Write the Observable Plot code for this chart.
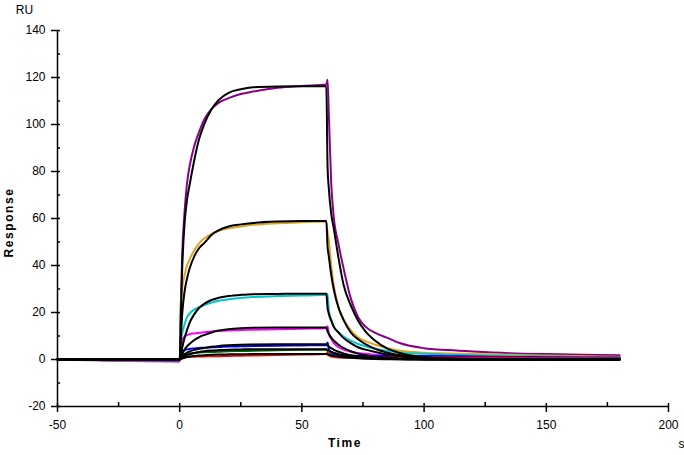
<!DOCTYPE html>
<html><head><meta charset="utf-8">
<script src="https://cdn.jsdelivr.net/npm/d3@7"></script>
<script src="https://cdn.jsdelivr.net/npm/@observablehq/plot@0.6"></script>
<style>body{margin:0;background:#fff}</style>
</head><body><div id="chart"></div>
<script>
// time points (s)
const time = [-50, 0, 0.5, 1, 2, 3, 4, 6, 8, 10, 13, 16, 20, 25, 30, 40, 50, 60, 60.5, 61, 62, 63, 65, 67, 70, 73, 76, 80, 85, 90, 100, 110, 120, 135, 150, 165, 180];

const seriesNames = ["c1", "c2", "c3", "c4", "c5", "c6", "c7"];
const seriesColors = ["#880088", "#DAA520", "#00C8C8", "#FF00FF", "#0000FF", "#006400", "#FF0000"];

// measured responses (RU)
const dataC1 = [0, -0.8, 25, 44, 63, 75, 82, 91, 97, 102, 106.5, 109.3, 111.2, 113, 114, 115.6, 116.4, 117, 119, 105, 75, 61, 49, 39, 26, 18, 14, 11.3, 9.2, 7.0, 4.8, 4.0, 3.4, 2.7, 2.3, 2.0, 1.8];
const dataC2 = [0, -0.5, 24, 30, 36, 40, 42.5, 46.5, 49.5, 51.5, 53.5, 54.8, 55.8, 56.6, 57.3, 58, 58.4, 58.7, 54, 51, 40, 32, 22, 17, 12.5, 9.5, 7.8, 6.3, 4.8, 3.7, 2.9, 2.6, 2.3, 2.0, 1.7, 1.4, 1.2];
const dataC3 = [0, -0.5, 8, 11, 15, 18, 19.5, 21.2, 22.3, 23.2, 24.2, 25, 25.6, 26.2, 26.6, 27, 27.2, 27.5, 28, 21, 17, 14, 11.5, 9.8, 8, 6.6, 5.6, 4.6, 3.7, 2.9, 2.4, 2.0, 1.7, 1.5, 1.3, 1.1, 1.0];
const dataC4 = [0, -0.5, 5, 8, 9.8, 10.4, 10.8, 11.1, 11.4, 11.6, 11.9, 12.1, 12.3, 12.6, 12.7, 12.9, 13.1, 13.3, 14.2, 11, 8.8, 7, 5.2, 4.2, 3.3, 2.8, 2.4, 2.0, 1.7, 1.4, 1.1, 0.9, 0.8, 0.7, 0.6, 0.5, 0.4];
const dataC5 = [0, -0.3, 2.5, 3.4, 4.0, 4.3, 4.5, 4.7, 4.9, 5.0, 5.2, 5.3, 5.5, 5.6, 5.7, 5.9, 6.0, 6.1, 7.2, 4.5, 2.8, 2.2, 1.8, 1.7, 1.6, 1.6, 1.5, 1.5, 1.5, 1.5, 1.5, 1.4, 1.3, 1.1, 1.0, 0.9, 0.9];
const dataC6 = [0, -0.3, 1.2, 1.8, 2.2, 2.4, 2.6, 2.8, 3.0, 3.1, 3.2, 3.3, 3.5, 3.6, 3.7, 3.9, 4.1, 4.3, 3.5, 2.6, 1.8, 1.5, 1.2, 1.0, 0.9, 0.8, 0.8, 0.7, 0.7, 0.7, 0.6, 0.6, 0.6, 0.6, 0.5, 0.5, 0.5];
const dataC7 = [0, -0.2, 0.5, 0.8, 1.0, 1.1, 1.2, 1.2, 1.3, 1.3, 1.4, 1.4, 1.5, 1.6, 1.7, 1.9, 2.1, 2.3, 3.0, 1.8, 1.3, 1.1, 0.9, 0.9, 0.8, 0.8, 0.8, 0.8, 0.8, 0.8, 0.8, 0.8, 0.7, 0.7, 0.6, 0.6, 0.5];

// fitted curves (RU)
const fitC1 = [0, 0, 20, 38, 58, 68, 74, 85, 94, 100, 106.5, 110.5, 113.5, 115, 115.8, 116.2, 116.3, 116.3, 82, 73, 62, 56, 43, 32, 23, 16.5, 12, 8, 4.6, 2.8, 1.0, 0.4, 0.2, 0.1, 0, 0, 0];
const fitC2 = [0, 0, 10, 19, 29, 34.5, 38.5, 44, 47.5, 49.5, 53, 55, 56.6, 57.5, 58.1, 58.7, 58.9, 58.9, 48, 44, 36, 30, 22, 17, 11.5, 8.6, 6.5, 4.5, 2.9, 1.9, 0.8, 0.3, 0.1, 0, 0, 0, 0];
const fitC3 = [0, 0, 2.5, 5, 9.2, 12.5, 15.5, 19.3, 22, 23.7, 25.3, 26.3, 27, 27.5, 27.8, 27.9, 28, 28, 22, 19.5, 16.5, 14, 11.5, 9.2, 7, 5.2, 4.2, 3.2, 2.1, 1.4, 0.6, 0.25, 0.1, 0, 0, 0, 0];
const fitC4 = [0, 0, 1, 2.2, 4.2, 5.6, 6.6, 8.3, 9.5, 10.4, 11.5, 12.3, 12.9, 13.3, 13.5, 13.6, 13.6, 13.6, 12, 11, 9.3, 8.1, 6.3, 4.9, 3.5, 2.5, 1.8, 1.2, 0.7, 0.4, 0.15, 0.05, 0, 0, 0, 0, 0];
const fitC5 = [0, 0, 0.6, 1.2, 2.2, 2.9, 3.4, 4.1, 4.6, 4.9, 5.4, 5.8, 6.1, 6.3, 6.4, 6.5, 6.5, 6.5, 6, 5.5, 4.8, 4.2, 3.3, 2.6, 1.8, 1.3, 0.9, 0.6, 0.35, 0.2, 0.07, 0, 0, 0, 0, 0, 0];
const fitC6 = [0, 0, 0.4, 0.7, 1.3, 1.8, 2.2, 2.8, 3.2, 3.5, 3.8, 4.0, 4.2, 4.3, 4.4, 4.4, 4.4, 4.4, 4.1, 3.8, 3.3, 2.9, 2.3, 1.8, 1.3, 0.9, 0.65, 0.4, 0.25, 0.15, 0.05, 0, 0, 0, 0, 0, 0];
const fitC7 = [0, 0, 0.2, 0.4, 0.7, 1.0, 1.2, 1.5, 1.7, 1.85, 2.0, 2.1, 2.2, 2.25, 2.3, 2.3, 2.3, 2.3, 2.1, 2.0, 1.7, 1.5, 1.2, 0.95, 0.7, 0.5, 0.35, 0.2, 0.12, 0.07, 0.02, 0, 0, 0, 0, 0, 0];

const xMajor = [-50, 0, 50, 100, 150, 200];
const xMinor = [-25, 25, 75, 125, 175];
const yMajor = [-20, 0, 20, 40, 60, 80, 100, 120, 140];
const yMinor = [-10, 10, 30, 50, 70, 90, 110, 130];

const dataSeries = [dataC1, dataC2, dataC3, dataC4, dataC5, dataC6, dataC7];
const fitSeries = [fitC1, fitC2, fitC3, fitC4, fitC5, fitC6, fitC7];

const toRows = (vals, name) => time.map((t, i) => ({t, v: vals[i], name}));
const dataRows = seriesNames.flatMap((n, i) => toRows(dataSeries[i], n));
const fitRows = seriesNames.flatMap((n, i) => toRows(fitSeries[i], n));

const W = 684, H = 455, mL = 57, mR = 16, mT = 30, mB = 49;
const frameW = W - mL - mR, frameH = H - mT - mB;

const chart = Plot.plot({
  width: W, height: H,
  marginLeft: mL, marginRight: mR, marginTop: mT, marginBottom: mB,
  style: {fontFamily: "'Liberation Sans', Arial, sans-serif", fontSize: "12px", color: "#000", background: "#fff"},
  x: {domain: [-50, 200]},
  y: {domain: [-20, 140]},
  color: {domain: seriesNames, range: seriesColors},
  marks: [
    Plot.line(dataRows, {x: "t", y: "v", z: "name", stroke: "name", strokeWidth: 2, curve: "monotone-x"}),
    Plot.line(fitRows, {x: "t", y: "v", z: "name", stroke: "#000", strokeWidth: 2, curve: "monotone-x"}),
    Plot.ruleX([-50], {stroke: "#000", strokeWidth: 1.5}),
    Plot.ruleY([-20], {stroke: "#000", strokeWidth: 1.5}),
    Plot.axisX({ticks: xMajor, tickSize: 6, tickPadding: 8, tickFormat: d => d, label: null, strokeWidth: 1.5, fontSize: 12}),
    Plot.axisY({ticks: yMajor, tickSize: 6, tickPadding: 6, tickFormat: d => d, label: null, strokeWidth: 1.5, fontSize: 12}),
    Plot.tickX(xMajor, {x: d => d, insetTop: frameH - 3, strokeWidth: 1.5}),
    Plot.tickX(xMinor, {x: d => d, insetTop: frameH - 4, strokeWidth: 1.5}),
    Plot.tickY(yMajor, {y: d => d, insetRight: frameW - 3, strokeWidth: 1.5}),
    Plot.tickY(yMinor, {y: d => d, insetRight: frameW - 3, strokeWidth: 1.5}),
    Plot.text(["RU"], {frameAnchor: "top-left", textAnchor: "middle", dx: -33, dy: -25, fontSize: 12}),
    Plot.text(["Response"], {frameAnchor: "left", textAnchor: "middle", lineAnchor: "middle", dx: -48, dy: 4, rotate: -90, fontWeight: "bold", fontSize: 12}),
    Plot.text(["Time"], {frameAnchor: "bottom", textAnchor: "middle", dx: -18, dy: 40, fontWeight: "bold", fontSize: 12}),
    Plot.text(["s"], {frameAnchor: "bottom-right", textAnchor: "middle", dx: 13, dy: 41, fontSize: 12})
  ]
});
d3.select(chart).selectAll("text")
  .filter(function () { return this.textContent === "Time" || this.textContent === "Response"; })
  .attr("letter-spacing", "1.6px");
document.getElementById("chart").appendChild(chart);
</script>
</body></html>
